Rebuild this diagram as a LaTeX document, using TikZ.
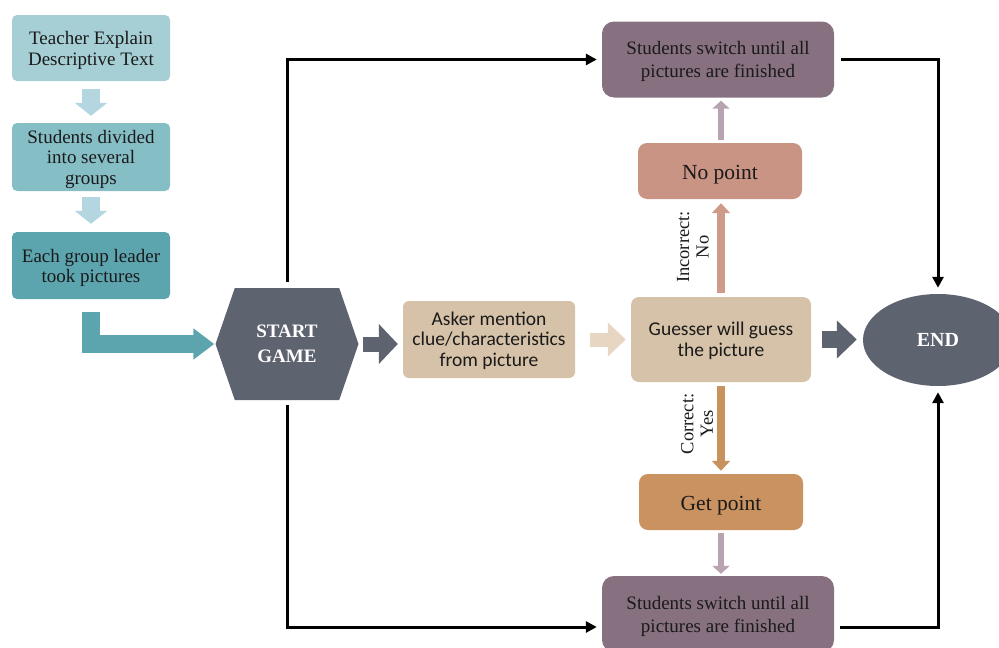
\documentclass[tikz,border=0pt]{standalone}
\usepackage{fontspec}
\setmainfont{Liberation Serif}
\newfontfamily\calfont{Carlito}
\usetikzlibrary{shapes.geometric,shapes.symbols,arrows.meta,calc}
\definecolor{tealA}{HTML}{A5CFD5}
\definecolor{tealB}{HTML}{86BEC6}
\definecolor{tealC}{HTML}{5CA5AF}
\definecolor{chev}{HTML}{B4D6E0}
\definecolor{slate}{HTML}{5E6370}
\definecolor{tanbox}{HTML}{D6C2A8}
\definecolor{tanarrow}{HTML}{E6D6C2}
\definecolor{purp}{HTML}{87707F}
\definecolor{purparrow}{HTML}{B7A3B1}
\definecolor{salmon}{HTML}{C99484}
\definecolor{salmonarrow}{HTML}{CE9A8A}
\definecolor{orangebox}{HTML}{C99260}
\definecolor{orangearrow}{HTML}{C8925F}
\definecolor{txt}{HTML}{1A1A1A}
\newcommand\mystrut[1]{\rule{0pt}{#1}}
\begin{document}
\begin{tikzpicture}[x=1pt,y=-1pt,
  lbox/.style={rounded corners=5pt, minimum width=158pt, align=center, inner sep=0pt, text=txt,
    font=\fontsize{19}{20.5}\selectfont},
  tbox/.style={rounded corners=8pt, align=center, inner sep=0pt, text=txt,
    font=\calfont\fontsize{19.5}{20.5}\selectfont},
  pbox/.style={rounded corners=12pt, fill=purp, minimum width=232pt, minimum height=76pt, align=center,
    inner sep=0pt, text=txt, font=\fontsize{19}{23}\selectfont},
  ptbox/.style={rounded corners=9pt, minimum width=164pt, minimum height=56pt, inner sep=0pt, text=txt,
    text height=19pt, text depth=2pt, font=\fontsize{21.5}{24}\selectfont},
  conn/.style={line width=3pt, -{Triangle[length=11pt,width=11pt]}},
  lbl/.style={rotate=90, align=center, inner sep=0pt, text=txt, font=\fontsize{18.5}{19.5}\selectfont}
]
\useasboundingbox (0,0) rectangle (999,648);

% left column
\node[lbox, fill=tealA, minimum height=66pt] (b1) at (91,48) {\mystrut{18pt}Teacher Explain\\Descriptive Text};
\node[lbox, fill=tealB, minimum height=68pt] (b2) at (91,157) {\mystrut{18pt}Students divided\\into several\\groups};
\node[lbox, fill=tealC, minimum height=67pt] (b3) at (91,265.5) {\mystrut{18pt}Each group leader\\took pictures};

% start / end
\node[signal, signal to=west and east, signal pointer angle=142, fill=slate, minimum width=143pt,
  minimum height=112pt, inner sep=0pt, align=center, text=white,
  font=\bfseries\fontsize{19}{25}\selectfont] (start) at (287,344) {START\\GAME};
\node[ellipse, fill=slate, minimum width=150pt, minimum height=92pt, inner sep=0pt, text=white,
  font=\bfseries\fontsize{20}{24}\selectfont] (end) at (938,340) {END};

% middle
\node[tbox, fill=tanbox, rounded corners=6pt, minimum width=172pt, minimum height=77pt] (asker) at (489,339.5)
  {\mystrut{16pt}Asker mention\\clue/characteristics\\from picture};
\node[tbox, fill=tanbox, minimum width=180pt, minimum height=85pt] (guess) at (721,339.5)
  {\mystrut{16pt}Guesser will guess\\the picture};

% right column
\node[pbox] (top) at (718,59.5) {\mystrut{18pt}Students switch until all\\pictures are finished};
\node[ptbox, fill=salmon] (nop) at (720,171) {No point};
\node[ptbox, fill=orangebox] (getp) at (721,502) {Get point};
\node[pbox] (bot) at (718,614) {\mystrut{18pt}Students switch until all\\pictures are finished};

% labels
\node[lbl] (lblno) at (693,247) {Incorrect:\\No};
\node[lbl] (lblyes) at (697,424) {Correct:\\Yes};

% left chevrons
\draw[chev, line width=18pt, -{Triangle[length=13pt,width=32pt]}, shorten <=8pt, shorten >=7pt]
  (b1.south) -- (b2.north);
\draw[chev, line width=18pt, -{Triangle[length=13pt,width=32pt]}, shorten <=6pt, shorten >=8pt]
  (b2.south) -- (b3.north);

% bent arrow
\draw[tealC, line width=18pt, -{Triangle[length=21pt,width=30pt]}, shorten >=1pt]
  ([yshift=-13pt]b3.south) |- (start.west);

% block arrows
\draw[slate, line width=15pt, -{Triangle[length=19pt,width=39pt]}, shorten <=4pt, shorten >=5pt]
  (start.east) -- (start.east -| asker.west);
\draw[tanarrow, line width=14pt, -{Triangle[length=18pt,width=33pt]}, shorten <=15pt, shorten >=5pt]
  (asker.east) -- (asker.east -| guess.west);
\draw[slate, line width=17pt, -{Triangle[length=20pt,width=37pt]}, shorten <=11pt, shorten >=6pt]
  (guess.east) -- (guess.east -| end.west);

% vertical arrows
\draw[salmonarrow, line width=8.5pt, -{Triangle[length=10pt,width=18pt]}, shorten <=4pt, shorten >=4pt]
  (guess.north) -- (guess.north |- nop.south);
\draw[purparrow, line width=6pt, -{Triangle[length=8pt,width=17pt]}, shorten <=3pt, shorten >=3pt]
  ([xshift=1pt]nop.north) -- ([xshift=1pt]nop.north |- top.south);
\draw[orangearrow, line width=8pt, -{Triangle[length=10pt,width=18pt]}, shorten <=4pt, shorten >=3pt]
  (guess.south) -- (guess.south |- getp.north);
\draw[purparrow, line width=6pt, -{Triangle[length=8pt,width=17pt]}, shorten <=3pt, shorten >=2pt]
  (getp.south) -- (getp.south |- bot.north);

% black connectors
\draw[conn, shorten <=6pt, shorten >=5pt] (start.north) |- (top.west);
\draw[conn, shorten <=5pt, shorten >=5pt] (start.south) |- ([yshift=-13pt]bot.west);
\draw[conn, shorten <=7pt, shorten >=6pt] (top.east) -| (end.north);
\draw[conn, shorten <=6pt, shorten >=6pt] ([yshift=-13pt]bot.east) -| (end.south);
\end{tikzpicture}
\end{document}
